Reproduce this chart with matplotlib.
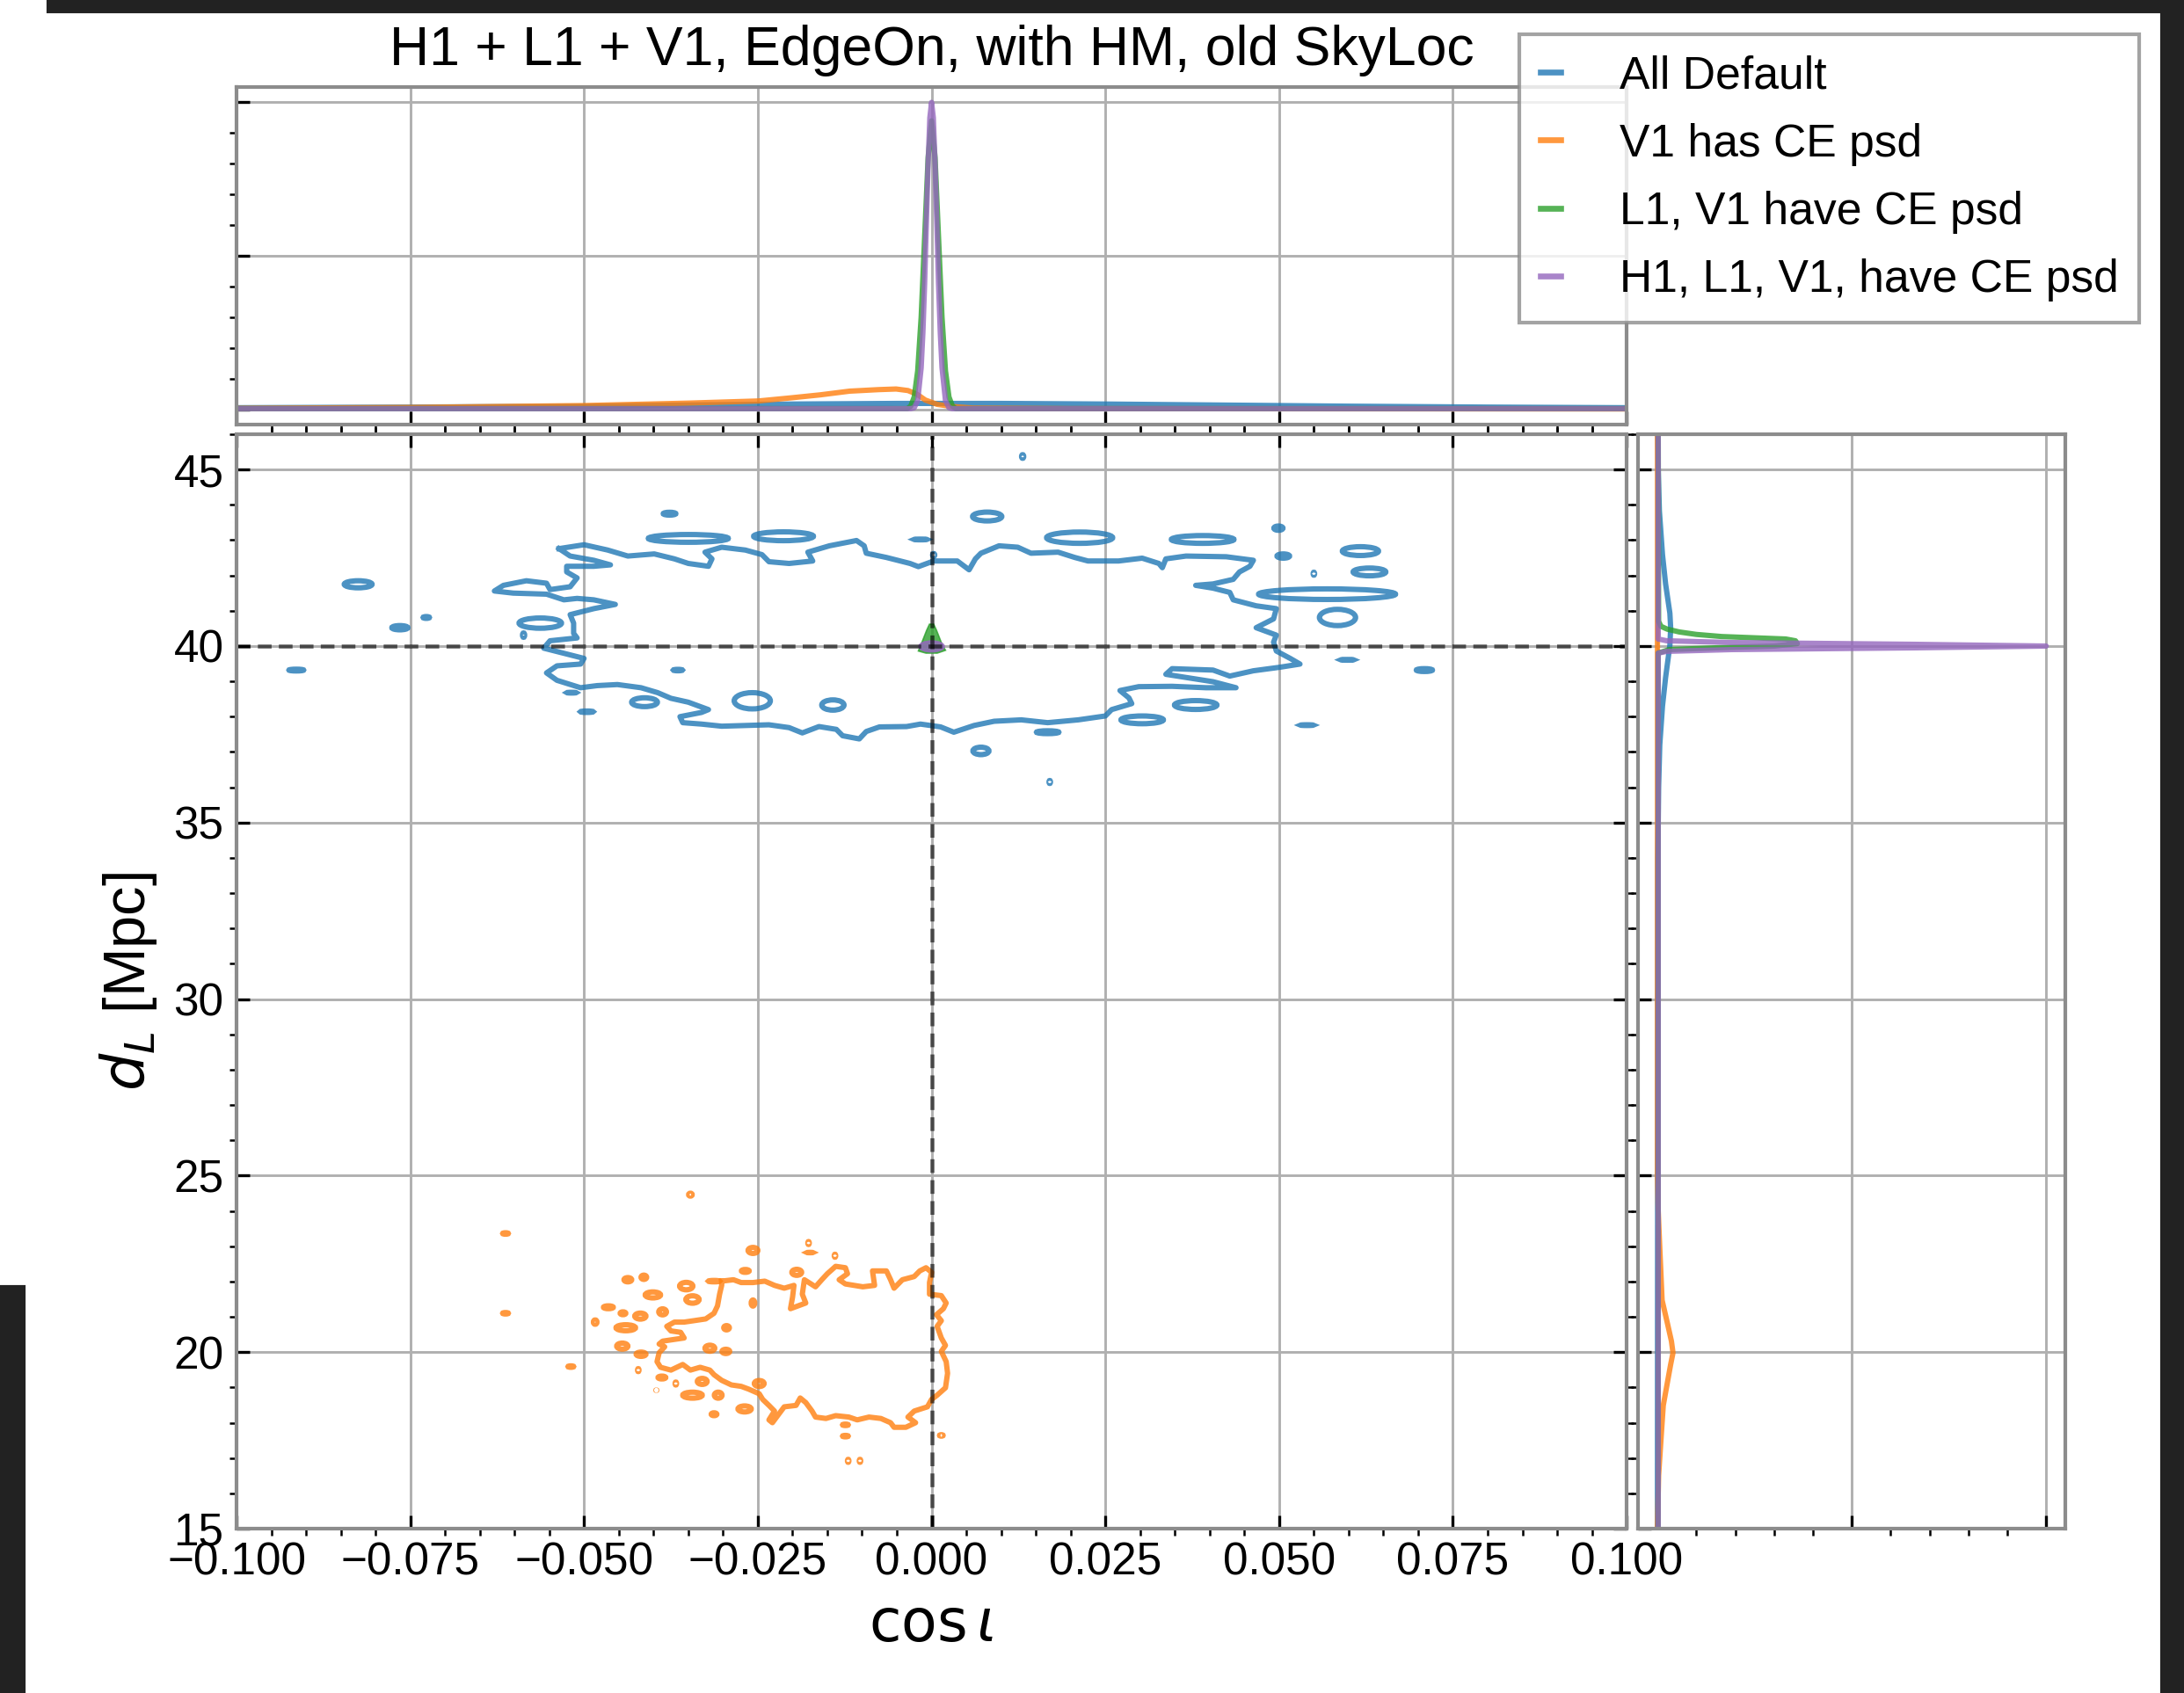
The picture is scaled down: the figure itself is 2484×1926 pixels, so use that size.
import numpy as np
import matplotlib.pyplot as plt
from matplotlib.patches import Ellipse, Rectangle
from matplotlib.lines import Line2D
from matplotlib.ticker import MultipleLocator, FuncFormatter

plt.rcParams['font.family'] = ['Liberation Sans', 'DejaVu Sans']
plt.rcParams['mathtext.fontset'] = 'dejavusans'

labels = ['All Default', 'V1 has CE psd', 'L1, V1 have CE psd', 'H1, L1, V1, have CE psd']
colors = ['#1f77b4', '#ff7f0e', '#2ca02c', '#9467bd']
truth_cosi = 0.0
truth_dl = 40.0

# credible contour, All Default (cos iota, d_L)
blue_ring_cosi = [-0.0536, -0.0500, -0.0466, -0.0437, -0.0399, -0.0370, -0.0350, -0.0321, -0.0316, -0.0326,
                  -0.0302, -0.0268, -0.0244, -0.0234, -0.0205, -0.0171, -0.0178, -0.0147, -0.0108, -0.0097,
                  -0.0094, -0.0065, -0.0031, -0.0019, 0.0003, 0.0037, 0.0054, 0.0063, 0.0071, 0.0097,
                  0.0124, 0.0143, 0.0182, 0.0206, 0.0225, 0.0269, 0.0303, 0.0327, 0.0332, 0.0337,
                  0.0366, 0.0424, 0.0463, 0.0458, 0.0443, 0.0434, 0.0405, 0.0380, 0.0405, 0.0429,
                  0.0434, 0.0467, 0.0496, 0.0492, 0.0467, 0.0496, 0.0492, 0.0496, 0.0516, 0.0530,
                  0.0501, 0.0463, 0.0429, 0.0405, 0.0346, 0.0337, 0.0405, 0.0438, 0.0395, 0.0346,
                  0.0298, 0.0271, 0.0284, 0.0288, 0.0259, 0.0250, 0.0211, 0.0167, 0.0129, 0.0090,
                  0.0061, 0.0032, 0.0013, -0.0016, -0.0036, -0.0075, -0.0094, -0.0104, -0.0128, -0.0137,
                  -0.0162, -0.0186, -0.0205, -0.0234, -0.0268, -0.0302, -0.0331, -0.0358, -0.0362, -0.0331,
                  -0.0321, -0.0350, -0.0375, -0.0394, -0.0418, -0.0452, -0.0481, -0.0505, -0.0539, -0.0554,
                  -0.0539, -0.0505, -0.0500, -0.0534, -0.0558, -0.0549, -0.0510, -0.0515, -0.0515, -0.0520,
                  -0.0486, -0.0455, -0.0486, -0.0510, -0.0529, -0.0554, -0.0602, -0.0629, -0.0616, -0.0583,
                  -0.0554, -0.0549, -0.0520, -0.0510, -0.0525, -0.0525, -0.0486, -0.0462, -0.0486, -0.0520]
blue_ring_dl = [42.76, 42.87, 42.72, 42.55, 42.61, 42.47, 42.34, 42.26, 42.47, 42.66,
                42.80, 42.72, 42.59, 42.39, 42.34, 42.41, 42.66, 42.84, 42.99, 42.84,
                42.63, 42.51, 42.34, 42.25, 42.41, 42.41, 42.16, 42.47, 42.63, 42.84,
                42.80, 42.63, 42.66, 42.51, 42.41, 42.41, 42.49, 42.34, 42.22, 42.47,
                42.55, 42.53, 42.43, 42.26, 42.10, 41.89, 41.76, 41.72, 41.64, 41.52,
                41.31, 41.14, 41.06, 40.77, 40.52, 40.31, 40.11, 39.86, 39.65, 39.49,
                39.40, 39.30, 39.15, 39.32, 39.36, 39.20, 38.99, 38.82, 38.82, 38.86,
                38.85, 38.74, 38.53, 38.37, 38.20, 38.02, 37.91, 37.83, 37.91, 37.87,
                37.75, 37.56, 37.71, 37.79, 37.72, 37.71, 37.58, 37.37, 37.46, 37.64,
                37.72, 37.54, 37.69, 37.77, 37.75, 37.73, 37.79, 37.83, 38.00, 38.12,
                38.20, 38.41, 38.52, 38.68, 38.82, 38.91, 38.88, 38.82, 39.03, 39.24,
                39.44, 39.49, 39.65, 39.82, 39.94, 40.15, 40.23, 40.36, 40.65, 40.89,
                41.06, 41.18, 41.31, 41.35, 41.31, 41.47, 41.50, 41.56, 41.72, 41.85,
                41.78, 41.60, 41.68, 41.93, 42.10, 42.26, 42.26, 42.30, 42.43, 42.55]

# small closed contours: centre and extent
blue_isl_cosi = [-0.0377, 0.0080, -0.0016, -0.0350, -0.0213, 0.0213, 0.0390, 0.0499, 0.0506, 0.0617,
                 0.0630, 0.0550, 0.0569, 0.0584, 0.0598, 0.0709, 0.0540, 0.0380, 0.0303, 0.0167,
                 0.0071, 0.0170, -0.0413, -0.0496, -0.0518, -0.0365, -0.0142, -0.0258, -0.0563, -0.0587,
                 0.0003, -0.0825, -0.0765, -0.0727, -0.0914, 0.0131]
blue_isl_dl = [43.75, 43.67, 43.02, 43.05, 43.11, 43.07, 43.02, 43.34, 42.55, 42.69,
               42.10, 42.05, 41.47, 40.81, 39.61, 39.32, 37.76, 38.33, 37.91, 37.56,
               37.03, 36.15, 38.41, 38.14, 38.68, 39.32, 38.33, 38.45, 40.65, 40.31,
               42.58, 41.75, 40.52, 40.81, 39.32, 45.37]
blue_isl_w = [0.0018, 0.0042, 0.0018, 0.0115, 0.0086, 0.0095, 0.0090, 0.0013, 0.0018, 0.0052,
              0.0047, 0.0002, 0.0197, 0.0052, 0.0018, 0.0023, 0.0018, 0.0061, 0.0061, 0.0032,
              0.0023, 0.0002, 0.0037, 0.0018, 0.0013, 0.0013, 0.0032, 0.0052, 0.0061, 0.0003,
              0.0003, 0.0040, 0.0023, 0.0009, 0.0021, 0.0003]
blue_isl_h = [0.08, 0.25, 0.02, 0.22, 0.25, 0.32, 0.22, 0.12, 0.12, 0.25,
              0.22, 0.08, 0.30, 0.46, 0.02, 0.08, 0.02, 0.25, 0.22, 0.08,
              0.21, 0.08, 0.25, 0.04, 0.02, 0.04, 0.29, 0.46, 0.29, 0.12,
              0.08, 0.20, 0.12, 0.05, 0.05, 0.10]

# credible contour, V1 has CE psd
orange_ring_cosi = [-0.0302, -0.0285, -0.0274, -0.0257, -0.0240, -0.0226, -0.0212, -0.0198, -0.0200, -0.0203,
                    -0.0181, -0.0186, -0.0183, -0.0167, -0.0158, -0.0150, -0.0138, -0.0124, -0.0121, -0.0133,
                    -0.0124, -0.0099, -0.0082, -0.0085, -0.0065, -0.0059, -0.0054, -0.0042, -0.0025, -0.0017,
                    -0.0008, 0.0000, -0.0003, -0.0003, 0.0014, 0.0021, 0.0017, 0.0007, 0.0014, 0.0008,
                    0.0014, 0.0020, 0.0014, 0.0021, 0.0023, 0.0020, 0.0008, 0.0000, -0.0006, -0.0025,
                    -0.0034, -0.0023, -0.0037, -0.0054, -0.0059, -0.0073, -0.0090, -0.0107, -0.0119, -0.0138,
                    -0.0152, -0.0167, -0.0172, -0.0181, -0.0189, -0.0195, -0.0212, -0.0223, -0.0229, -0.0234,
                    -0.0226, -0.0234, -0.0243, -0.0248, -0.0263, -0.0274, -0.0288, -0.0302, -0.0313, -0.0319,
                    -0.0333, -0.0347, -0.0358, -0.0375, -0.0390, -0.0395, -0.0392, -0.0384, -0.0392, -0.0387,
                    -0.0370, -0.0356, -0.0361, -0.0375, -0.0381, -0.0370, -0.0356, -0.0342, -0.0325, -0.0313,
                    -0.0308, -0.0305, -0.0302]
orange_ring_dl = [22.01, 22.05, 21.97, 21.97, 22.01, 21.89, 21.81, 21.89, 21.56, 21.23,
                  21.39, 21.64, 22.05, 21.85, 22.05, 22.22, 22.43, 22.39, 22.22, 22.05,
                  21.93, 21.85, 21.89, 22.30, 22.30, 22.05, 21.81, 22.05, 22.14, 22.30,
                  22.39, 22.26, 21.97, 21.64, 21.60, 21.39, 21.23, 21.06, 20.89, 20.73,
                  20.40, 20.19, 20.02, 19.73, 19.40, 18.99, 18.78, 18.66, 18.45, 18.33,
                  18.16, 18.00, 17.87, 17.87, 18.00, 18.12, 18.16, 18.08, 18.16, 18.20,
                  18.12, 18.16, 18.33, 18.57, 18.70, 18.49, 18.45, 18.16, 18.00, 18.08,
                  18.33, 18.49, 18.66, 18.82, 18.95, 19.03, 19.07, 19.20, 19.36, 19.49,
                  19.57, 19.49, 19.65, 19.49, 19.57, 19.73, 19.98, 20.15, 20.23, 20.31,
                  20.36, 20.40, 20.56, 20.60, 20.73, 20.85, 20.85, 20.89, 20.94, 21.10,
                  21.31, 21.64, 21.89]

orange_isl_cosi = [-0.0347, -0.0613, -0.0613, -0.0519, -0.0257, -0.0177, -0.0175, -0.0139, -0.0268, -0.0194,
                   -0.0437, -0.0414, -0.0353, -0.0313, -0.0465, -0.0444, -0.0419, -0.0484, -0.0440, -0.0401,
                   -0.0387, -0.0344, -0.0295, -0.0445, -0.0418, -0.0422, -0.0388, -0.0368, -0.0396, -0.0330,
                   -0.0344, -0.0307, -0.0313, -0.0269, -0.0248, -0.0124, -0.0124, -0.0120, -0.0103, 0.0014,
                   -0.0296, -0.0319, -0.0257]
orange_isl_dl = [24.46, 23.36, 21.10, 19.59, 22.88, 23.09, 22.82, 22.73, 22.30, 22.26,
                 22.05, 22.12, 21.87, 22.01, 21.27, 21.10, 21.02, 20.85, 20.69, 21.62,
                 21.14, 21.49, 20.69, 20.17, 19.94, 19.49, 19.28, 19.11, 18.92, 19.17,
                 18.78, 18.78, 18.24, 18.39, 19.11, 17.94, 17.62, 16.92, 16.92, 17.64,
                 20.02, 20.11, 21.39]
orange_isl_w = [0.0005, 0.0008, 0.0008, 0.0008, 0.0014, 0.0002, 0.0008, 0.0002, 0.0011, 0.0014,
                0.0011, 0.0008, 0.0019, 0.0016, 0.0014, 0.0008, 0.0016, 0.0005, 0.0028, 0.0022,
                0.0011, 0.0019, 0.0008, 0.0016, 0.0014, 0.0002, 0.0011, 0.0002, 0.0001, 0.0014,
                0.0028, 0.0011, 0.0008, 0.0019, 0.0014, 0.0008, 0.0008, 0.0002, 0.0002, 0.0005,
                0.0011, 0.0014, 0.0005]
orange_isl_h = [0.08, 0.04, 0.04, 0.04, 0.17, 0.08, 0.01, 0.08, 0.08, 0.17,
                0.12, 0.12, 0.21, 0.04, 0.08, 0.08, 0.17, 0.12, 0.17, 0.17,
                0.17, 0.21, 0.12, 0.17, 0.12, 0.08, 0.08, 0.08, 0.01, 0.17,
                0.17, 0.17, 0.08, 0.17, 0.17, 0.04, 0.04, 0.08, 0.08, 0.04,
                0.12, 0.17, 0.17]

# L1, V1 have CE psd: compact region round the truth
green_cosi = [-0.0019, -0.0015, -0.0011, -0.0007, -0.0003, 0.0003, 0.0007, 0.0011, 0.0015, 0.0020, 0.0008, -0.0008]
green_dl = [39.86, 40.05, 40.25, 40.45, 40.62, 40.62, 40.45, 40.25, 40.05, 39.88, 39.80, 39.80]
# H1, L1, V1 have CE psd
purple_cosi, purple_dl, purple_w, purple_h = 0.0, 39.99, 0.0036, 0.30

# marginal of cos iota (normalised)
top_blue_x = [-0.1, -0.075, -0.05, -0.035, -0.02, -0.005, 0.01, 0.025, 0.04, 0.06, 0.08, 0.1]
top_blue_y = [0.005, 0.007, 0.010, 0.014, 0.017, 0.019, 0.019, 0.017, 0.014, 0.010, 0.007, 0.005]
top_orange_x = [-0.1, -0.075, -0.05, -0.035, -0.0249, -0.0203, -0.016, -0.0118, -0.0076, -0.0051,
                -0.0034, -0.0021, -0.0009, 0.0008, 0.0029, 0.006, 0.02, 0.1]
top_orange_y = [0.003, 0.006, 0.012, 0.020, 0.027, 0.037, 0.047, 0.059, 0.064, 0.066,
                0.061, 0.049, 0.030, 0.016, 0.009, 0.004, 0.002, 0.001]
top_green_x = [-0.1, -0.0035, -0.003, -0.0025, -0.002, -0.0015, -0.001, -0.0005, 0.0,
               0.0005, 0.001, 0.0015, 0.002, 0.0025, 0.003, 0.0035, 0.1]
top_green_y = [0.002, 0.002, 0.010, 0.040, 0.125, 0.30, 0.56, 0.82, 0.94,
               0.82, 0.56, 0.30, 0.125, 0.040, 0.010, 0.002, 0.002]
top_purple_x = [-0.1, -0.003, -0.0025, -0.002, -0.0015, -0.00125, -0.001, -0.00075, -0.0005, -0.00025, 0.0,
                0.00025, 0.0005, 0.00075, 0.001, 0.00125, 0.0015, 0.002, 0.0025, 0.003, 0.1]
top_purple_y = [0.002, 0.002, 0.005, 0.028, 0.135, 0.25, 0.41, 0.61, 0.80, 0.95, 1.0,
                0.95, 0.80, 0.61, 0.41, 0.25, 0.135, 0.028, 0.005, 0.002, 0.002]

# marginal of d_L (normalised)
side_blue_dl = [15, 34, 36, 37.2, 38.3, 39.11, 40.02, 40.52, 40.93, 41.76, 42.59, 43.83, 45, 46]
side_blue_p = [0.0, 0.001, 0.003, 0.006, 0.013, 0.021, 0.032, 0.034, 0.032, 0.021, 0.013, 0.005, 0.002, 0.001]
side_orange_dl = [15, 16.5, 17.67, 18.49, 18.98, 19.65, 19.98, 20.31, 20.8, 21.47, 22.96, 24, 25, 46]
side_orange_p = [0.0, 0.003, 0.010, 0.015, 0.023, 0.034, 0.040, 0.036, 0.026, 0.012, 0.006, 0.002, 0.0, 0.0]
side_green_dl = [15, 39.8, 39.9, 39.95, 40.0, 40.07, 40.15, 40.2, 40.27, 40.33, 40.4, 40.48, 40.56, 40.7, 46]
side_green_p = [0.002, 0.002, 0.03, 0.15, 0.30, 0.36, 0.355, 0.33, 0.165, 0.10, 0.056, 0.025, 0.009, 0.003, 0.002]
side_purple_dl = [15, 39.8, 39.85, 39.9, 39.95, 40.0, 40.05, 40.1, 40.15, 40.2, 46]
side_purple_p = [0.002, 0.002, 0.024, 0.19, 0.66, 1.0, 0.66, 0.19, 0.024, 0.002, 0.002]

lw = 1.45
alpha = 0.8

fig = plt.figure(figsize=(8.28, 6.42), dpi=300)
ax = fig.add_axes([0.1083, 0.0971, 0.6365, 0.6464])
ax_top = fig.add_axes([0.1083, 0.7492, 0.6365, 0.1994], sharex=ax)
ax_side = fig.add_axes([0.7500, 0.0971, 0.1958, 0.6464], sharey=ax)

for a in (ax, ax_top, ax_side):
    a.set_axisbelow(True)
    a.grid(True, color='#b0b0b0', lw=0.7)
    for s in a.spines.values():
        s.set_color('0.55')
        s.set_linewidth(1.0)
    a.tick_params(which='major', direction='in', length=3.5, width=0.8, colors='k')
    a.tick_params(which='minor', direction='out', length=2.0, width=0.6, colors='k')

# joint panel
ax.plot(blue_ring_cosi + blue_ring_cosi[:1], blue_ring_dl + blue_ring_dl[:1],
        color=colors[0], alpha=alpha, lw=lw, solid_joinstyle='round')
for c, d, w, h in zip(blue_isl_cosi, blue_isl_dl, blue_isl_w, blue_isl_h):
    ax.add_patch(Ellipse((c, d), w, h, fill=False, ec=colors[0], alpha=alpha, lw=lw))
ax.plot(orange_ring_cosi + orange_ring_cosi[:1], orange_ring_dl + orange_ring_dl[:1],
        color=colors[1], alpha=alpha, lw=lw, solid_joinstyle='round')
for c, d, w, h in zip(orange_isl_cosi, orange_isl_dl, orange_isl_w, orange_isl_h):
    ax.add_patch(Ellipse((c, d), w, h, fill=False, ec=colors[1], alpha=alpha, lw=lw))
ax.fill(green_cosi, green_dl, color=colors[2], alpha=alpha, lw=0.4)
ax.add_patch(Ellipse((purple_cosi, purple_dl), purple_w, purple_h, color=colors[3], alpha=alpha, lw=0.5))

ax.axvline(truth_cosi, color='k', alpha=0.6, lw=1.1, ls=(0, (3.4, 1.8)))
ax.axhline(truth_dl, color='k', alpha=0.6, lw=1.1, ls=(0, (3.4, 1.8)))

ax.set_xlim(-0.1, 0.1)
ax.set_ylim(15, 46)
ax.xaxis.set_major_locator(MultipleLocator(0.025))
ax.xaxis.set_minor_locator(MultipleLocator(0.005))
ax.yaxis.set_major_locator(MultipleLocator(5))
ax.yaxis.set_minor_locator(MultipleLocator(1))
ax.xaxis.set_major_formatter(FuncFormatter(lambda v, p: f'{v:.3f}'.replace('-', '\u2212')))
ax.tick_params(which='both', top=True, right=True, labelsize=12.3)
ax.set_xlabel(r'$\cos\iota$', fontsize=16)
ax.set_ylabel(r'$d_L$ [Mpc]', fontsize=16)

# marginals
for xs, ys, c in zip([top_blue_x, top_orange_x, top_green_x, top_purple_x],
                     [top_blue_y, top_orange_y, top_green_y, top_purple_y], colors):
    ax_top.plot(xs, ys, color=c, alpha=alpha, lw=lw)
ax_top.set_ylim(-0.05, 1.05)
ax_top.yaxis.set_major_locator(MultipleLocator(0.5))
ax_top.yaxis.set_minor_locator(MultipleLocator(0.1))
ax_top.tick_params(which='both', labelbottom=False, labelleft=False)
ax_top.set_title('H1 + L1 + V1, EdgeOn, with HM, old SkyLoc', fontsize=15, pad=6)

for ds, ps, c in zip([side_blue_dl, side_orange_dl, side_green_dl, side_purple_dl],
                     [side_blue_p, side_orange_p, side_green_p, side_purple_p], colors):
    ax_side.plot(ps, ds, color=c, alpha=alpha, lw=lw)
ax_side.set_xlim(-0.05, 1.05)
ax_side.xaxis.set_major_locator(MultipleLocator(0.5))
ax_side.xaxis.set_minor_locator(MultipleLocator(0.1))
ax_side.tick_params(which='both', labelbottom=False, labelleft=False)

handles = [Line2D([], [], color=c, alpha=alpha, lw=1.6) for c in colors]
leg = fig.legend(handles, labels, loc='upper right', bbox_to_anchor=(0.9795, 0.9798),
                 borderaxespad=0, fontsize=12.4, handlelength=0.45, handletextpad=1.3,
                 labelspacing=0.55, borderpad=0.45,
                 fancybox=False, edgecolor='0.55', framealpha=0.8)
leg.get_frame().set_linewidth(1.0)

# window edges
for x0, y0, w, h in [(0.0221, 0.99325, 0.9779, 0.00675), (0.98994, 0.0, 0.01006, 1.0), (0.0, 0.0, 0.01087, 0.2399)]:
    fig.patches.append(Rectangle((x0, y0), w, h, transform=fig.transFigure, color='#222222', zorder=10))

fig.savefig('out.png', dpi=300)
